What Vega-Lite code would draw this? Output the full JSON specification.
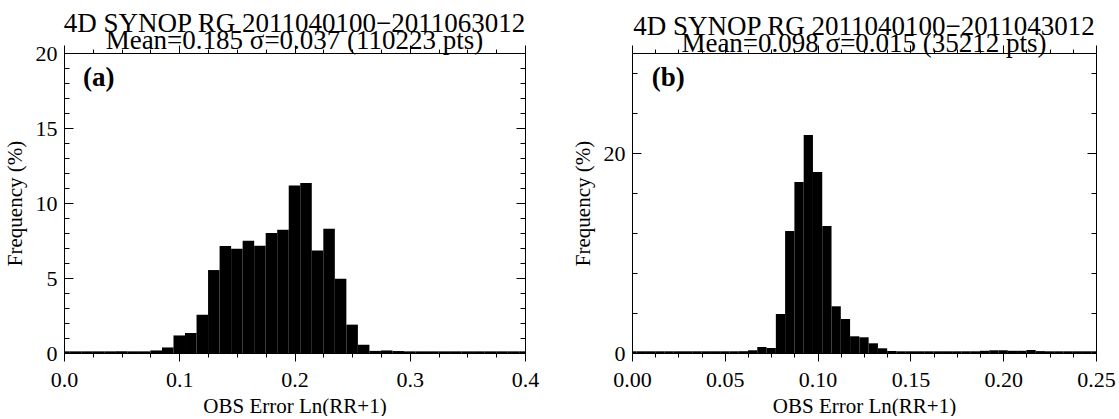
{
  "$schema": "https://vega.github.io/schema/vega-lite/v6.json",
  "background": "white",
  "padding": {"left": 4, "top": 10, "right": 0, "bottom": 0},
  "datasets": {
    "a": [
      {"x0": -0.005, "x1": 0.005, "pct": 0.11},
      {"x0": 0.005, "x1": 0.015, "pct": 0.11},
      {"x0": 0.015, "x1": 0.025, "pct": 0.11},
      {"x0": 0.025, "x1": 0.035, "pct": 0.11},
      {"x0": 0.035, "x1": 0.045, "pct": 0.11},
      {"x0": 0.045, "x1": 0.055, "pct": 0.11},
      {"x0": 0.055, "x1": 0.065, "pct": 0.11},
      {"x0": 0.065, "x1": 0.075, "pct": 0.11},
      {"x0": 0.075, "x1": 0.085, "pct": 0.17},
      {"x0": 0.085, "x1": 0.095, "pct": 0.37},
      {"x0": 0.095, "x1": 0.105, "pct": 1.17},
      {"x0": 0.105, "x1": 0.115, "pct": 1.33},
      {"x0": 0.115, "x1": 0.125, "pct": 2.55},
      {"x0": 0.125, "x1": 0.135, "pct": 5.53},
      {"x0": 0.135, "x1": 0.145, "pct": 7.13},
      {"x0": 0.145, "x1": 0.155, "pct": 6.95},
      {"x0": 0.155, "x1": 0.165, "pct": 7.49},
      {"x0": 0.165, "x1": 0.175, "pct": 7.15},
      {"x0": 0.175, "x1": 0.185, "pct": 8.0},
      {"x0": 0.185, "x1": 0.195, "pct": 8.22},
      {"x0": 0.195, "x1": 0.205, "pct": 11.17},
      {"x0": 0.205, "x1": 0.215, "pct": 11.33},
      {"x0": 0.215, "x1": 0.225, "pct": 6.84},
      {"x0": 0.225, "x1": 0.235, "pct": 8.29},
      {"x0": 0.235, "x1": 0.245, "pct": 4.95},
      {"x0": 0.245, "x1": 0.255, "pct": 1.89},
      {"x0": 0.255, "x1": 0.265, "pct": 0.55},
      {"x0": 0.265, "x1": 0.275, "pct": 0.14},
      {"x0": 0.275, "x1": 0.285, "pct": 0.17},
      {"x0": 0.285, "x1": 0.295, "pct": 0.13},
      {"x0": 0.295, "x1": 0.305, "pct": 0.11},
      {"x0": 0.305, "x1": 0.315, "pct": 0.11},
      {"x0": 0.315, "x1": 0.325, "pct": 0.11},
      {"x0": 0.325, "x1": 0.335, "pct": 0.11},
      {"x0": 0.335, "x1": 0.345, "pct": 0.11},
      {"x0": 0.345, "x1": 0.355, "pct": 0.11},
      {"x0": 0.355, "x1": 0.365, "pct": 0.11},
      {"x0": 0.365, "x1": 0.375, "pct": 0.11},
      {"x0": 0.375, "x1": 0.385, "pct": 0.11},
      {"x0": 0.385, "x1": 0.395, "pct": 0.11},
      {"x0": 0.395, "x1": 0.405, "pct": 0.11}
    ],
    "b": [
      {"x0": -0.0025, "x1": 0.0025, "pct": 0.17},
      {"x0": 0.0025, "x1": 0.0075, "pct": 0.17},
      {"x0": 0.0075, "x1": 0.0125, "pct": 0.17},
      {"x0": 0.0125, "x1": 0.0175, "pct": 0.17},
      {"x0": 0.0175, "x1": 0.0225, "pct": 0.17},
      {"x0": 0.0225, "x1": 0.0275, "pct": 0.17},
      {"x0": 0.0275, "x1": 0.0325, "pct": 0.17},
      {"x0": 0.0325, "x1": 0.0375, "pct": 0.17},
      {"x0": 0.0375, "x1": 0.0425, "pct": 0.17},
      {"x0": 0.0425, "x1": 0.0475, "pct": 0.17},
      {"x0": 0.0475, "x1": 0.0525, "pct": 0.17},
      {"x0": 0.0525, "x1": 0.0575, "pct": 0.17},
      {"x0": 0.0575, "x1": 0.0625, "pct": 0.18},
      {"x0": 0.0625, "x1": 0.0675, "pct": 0.27},
      {"x0": 0.0675, "x1": 0.0725, "pct": 0.6},
      {"x0": 0.0725, "x1": 0.0775, "pct": 0.5},
      {"x0": 0.0775, "x1": 0.0825, "pct": 3.9},
      {"x0": 0.0825, "x1": 0.0875, "pct": 12.2},
      {"x0": 0.0875, "x1": 0.0925, "pct": 17.1},
      {"x0": 0.0925, "x1": 0.0975, "pct": 21.8},
      {"x0": 0.0975, "x1": 0.1025, "pct": 18.1},
      {"x0": 0.1025, "x1": 0.1075, "pct": 12.7},
      {"x0": 0.1075, "x1": 0.1125, "pct": 4.67},
      {"x0": 0.1125, "x1": 0.1175, "pct": 3.4},
      {"x0": 0.1175, "x1": 0.1225, "pct": 1.67},
      {"x0": 0.1225, "x1": 0.1275, "pct": 1.57},
      {"x0": 0.1275, "x1": 0.1325, "pct": 0.97},
      {"x0": 0.1325, "x1": 0.1375, "pct": 0.47},
      {"x0": 0.1375, "x1": 0.1425, "pct": 0.19},
      {"x0": 0.1425, "x1": 0.1475, "pct": 0.17},
      {"x0": 0.1475, "x1": 0.1525, "pct": 0.17},
      {"x0": 0.1525, "x1": 0.1575, "pct": 0.17},
      {"x0": 0.1575, "x1": 0.1625, "pct": 0.17},
      {"x0": 0.1625, "x1": 0.1675, "pct": 0.17},
      {"x0": 0.1675, "x1": 0.1725, "pct": 0.17},
      {"x0": 0.1725, "x1": 0.1775, "pct": 0.17},
      {"x0": 0.1775, "x1": 0.1825, "pct": 0.17},
      {"x0": 0.1825, "x1": 0.1875, "pct": 0.17},
      {"x0": 0.1875, "x1": 0.1925, "pct": 0.22},
      {"x0": 0.1925, "x1": 0.1975, "pct": 0.27},
      {"x0": 0.1975, "x1": 0.2025, "pct": 0.27},
      {"x0": 0.2025, "x1": 0.2075, "pct": 0.22},
      {"x0": 0.2075, "x1": 0.2125, "pct": 0.22},
      {"x0": 0.2125, "x1": 0.2175, "pct": 0.3},
      {"x0": 0.2175, "x1": 0.2225, "pct": 0.19},
      {"x0": 0.2225, "x1": 0.2275, "pct": 0.17},
      {"x0": 0.2275, "x1": 0.2325, "pct": 0.17},
      {"x0": 0.2325, "x1": 0.2375, "pct": 0.17},
      {"x0": 0.2375, "x1": 0.2425, "pct": 0.17},
      {"x0": 0.2425, "x1": 0.2475, "pct": 0.17},
      {"x0": 0.2475, "x1": 0.2525, "pct": 0.17}
    ]
  },
  "bounds": "flush",
  "spacing": 107,
  "hconcat": [
    {
      "title": {"text": ["4D SYNOP RG 2011040100−2011063012", "Mean=0.185 σ=0.037 (110223 pts)"]},
      "width": 461,
      "height": 300,
      "layer": [
        {
          "data": {"name": "a"},
          "mark": {"type": "bar", "color": "black", "clip": true},
          "encoding": {
            "x": {
              "field": "x0", "type": "quantitative",
              "scale": {"domain": [0, 0.4], "nice": false, "zero": false},
              "axis": {
                "orient": "bottom",
                "values": [0, 0.025, 0.05, 0.075, 0.1, 0.125, 0.15, 0.175, 0.2, 0.225, 0.25, 0.275, 0.3, 0.325, 0.35, 0.375, 0.4],
                "labelExpr": "abs(datum.value*10-round(datum.value*10))<0.001 ? format(datum.value, '.1f') : ''",
                "tickSize": {"condition": {"test": "abs(datum.value*10-round(datum.value*10))<0.001", "value": 8}, "value": 4},
                "labelPadding": 8,
                "title": "OBS Error Ln(RR+1)",
                "titleY": 59,
                "titleBaseline": "alphabetic"
              }
            },
            "x2": {"field": "x1"},
            "y": {
              "field": "pct", "type": "quantitative",
              "scale": {"domain": [0, 20], "nice": false},
              "axis": {
                "orient": "left",
                "values": [0, 1, 2, 3, 4, 5, 6, 7, 8, 9, 10, 11, 12, 13, 14, 15, 16, 17, 18, 19, 20],
                "labelExpr": "datum.value % 5 === 0 ? datum.label : ''",
                "tickSize": {"condition": {"test": "datum.value % 5 === 0", "value": -9}, "value": -5},
                "labelPadding": 16,
                "title": "Frequency (%)",
                "titleX": -43,
                "titleAngle": 270,
                "titleBaseline": "alphabetic"
              }
            },
            "y2": {"datum": 0}
          }
        },
        {
          "data": {"values": [{"label": "(a)"}]},
          "mark": {"type": "text", "font": "Liberation Serif", "fontSize": 27, "fontWeight": "bold", "align": "left", "baseline": "alphabetic", "color": "black"},
          "encoding": {
            "text": {"field": "label"},
            "x": {
              "datum": 0.0164, "type": "quantitative",
              "axis": {
                "orient": "top",
                "values": [0, 0.025, 0.05, 0.075, 0.1, 0.125, 0.15, 0.175, 0.2, 0.225, 0.25, 0.275, 0.3, 0.325, 0.35, 0.375, 0.4],
                "labels": false,
                "title": null,
                "tickSize": {"condition": {"test": "abs(datum.value*10-round(datum.value*10))<0.001", "value": 8}, "value": 4}
              }
            },
            "y": {
              "datum": 17.8, "type": "quantitative",
              "axis": {
                "orient": "right",
                "values": [0, 1, 2, 3, 4, 5, 6, 7, 8, 9, 10, 11, 12, 13, 14, 15, 16, 17, 18, 19, 20],
                "labels": false,
                "title": null,
                "tickSize": {"condition": {"test": "datum.value % 5 === 0", "value": -9}, "value": -5}
              }
            }
          }
        }
      ],
      "resolve": {"axis": {"x": "independent", "y": "independent"}}
    },
    {
      "title": {"text": ["4D SYNOP RG 2011040100−2011043012", "Mean=0.098 σ=0.015 (35212 pts)"]},
      "width": 464,
      "height": 300,
      "layer": [
        {
          "data": {"name": "b"},
          "mark": {"type": "bar", "color": "black", "clip": true},
          "encoding": {
            "x": {
              "field": "x0", "type": "quantitative",
              "scale": {"domain": [0, 0.25], "nice": false, "zero": false},
              "axis": {
                "orient": "bottom",
                "values": [0, 0.0125, 0.025, 0.0375, 0.05, 0.0625, 0.075, 0.0875, 0.1, 0.1125, 0.125, 0.1375, 0.15, 0.1625, 0.175, 0.1875, 0.2, 0.2125, 0.225, 0.2375, 0.25],
                "labelExpr": "abs(datum.value*20-round(datum.value*20))<0.001 ? format(datum.value, '.2f') : ''",
                "tickSize": {"condition": {"test": "abs(datum.value*20-round(datum.value*20))<0.001", "value": 8}, "value": 4},
                "labelPadding": 8,
                "title": "OBS Error Ln(RR+1)",
                "titleY": 59,
                "titleBaseline": "alphabetic"
              }
            },
            "x2": {"field": "x1"},
            "y": {
              "field": "pct", "type": "quantitative",
              "scale": {"domain": [0, 30], "nice": false},
              "axis": {
                "orient": "left",
                "values": [0, 4, 8, 12, 16, 20, 24, 28],
                "labelExpr": "datum.value % 20 === 0 ? datum.label : ''",
                "tickSize": {"condition": {"test": "datum.value % 20 === 0", "value": -9}, "value": -5},
                "labelPadding": 16,
                "title": "Frequency (%)",
                "titleX": -43,
                "titleAngle": 270,
                "titleBaseline": "alphabetic"
              }
            },
            "y2": {"datum": 0}
          }
        },
        {
          "data": {"values": [{"label": "(b)"}]},
          "mark": {"type": "text", "font": "Liberation Serif", "fontSize": 27, "fontWeight": "bold", "align": "left", "baseline": "alphabetic", "color": "black"},
          "encoding": {
            "text": {"field": "label"},
            "x": {
              "datum": 0.0107, "type": "quantitative",
              "axis": {
                "orient": "top",
                "values": [0, 0.0125, 0.025, 0.0375, 0.05, 0.0625, 0.075, 0.0875, 0.1, 0.1125, 0.125, 0.1375, 0.15, 0.1625, 0.175, 0.1875, 0.2, 0.2125, 0.225, 0.2375, 0.25],
                "labels": false,
                "title": null,
                "tickSize": {"condition": {"test": "abs(datum.value*20-round(datum.value*20))<0.001", "value": 8}, "value": 4}
              }
            },
            "y": {
              "datum": 26.7, "type": "quantitative",
              "axis": {
                "orient": "right",
                "values": [0, 4, 8, 12, 16, 20, 24, 28],
                "labels": false,
                "title": null,
                "tickSize": {"condition": {"test": "datum.value % 20 === 0", "value": -9}, "value": -5}
              }
            }
          }
        }
      ],
      "resolve": {"axis": {"x": "independent", "y": "independent"}}
    }
  ],
  "config": {
    "font": "Liberation Serif",
    "view": {"stroke": null},
    "axis": {
      "grid": false,
      "zindex": 1,
      "domainColor": "black",
      "tickColor": "black",
      "labelColor": "black",
      "titleColor": "black",
      "labelFont": "Liberation Serif",
      "titleFont": "Liberation Serif",
      "labelFontSize": 22,
      "titleFontSize": 21,
      "titleFontWeight": "normal",
      "labelFlush": false,
      "labelOverlap": false,
      "domainWidth": 1,
      "tickWidth": 1
    },
    "title": {
      "font": "Liberation Serif",
      "fontSize": 27,
      "fontWeight": "normal",
      "color": "black",
      "lineHeight": 17,
      "anchor": "middle",
      "offset": -13
    }
  }
}
